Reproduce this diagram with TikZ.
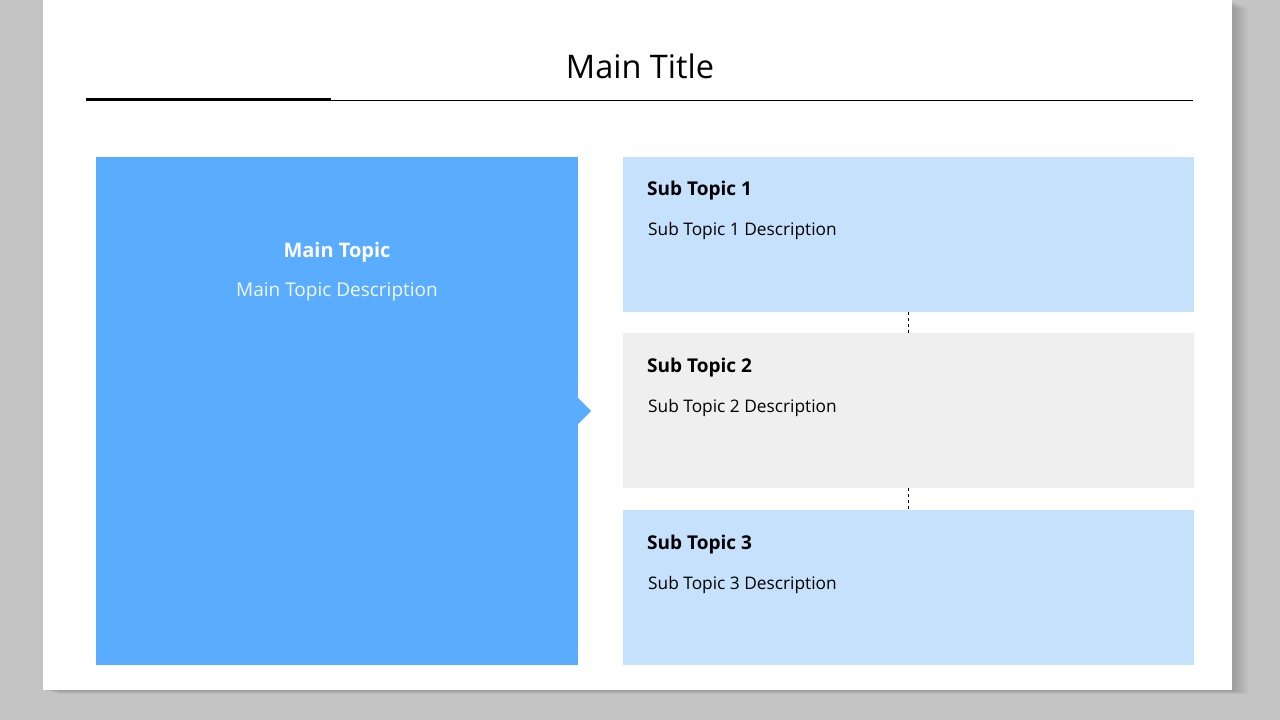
\documentclass[tikz,border=0pt]{standalone}
\usepackage{fontspec}
\setmainfont{Open Sans}
\usetikzlibrary{positioning, calc}

\definecolor{pagegray}{HTML}{C4C4C4}
\definecolor{mainblue}{HTML}{5AACFF}
\definecolor{lightblue}{HTML}{C5E1FC}
\definecolor{lightgray}{HTML}{EFEFEF}

\tikzset{
    subbox/.style={minimum width=571pt, minimum height=155pt, inner sep=0pt, anchor=north west},
    subtitle/.style={anchor=base west, font=\fontsize{19}{22}\selectfont\bfseries, inner sep=0pt},
    subdesc/.style={anchor=base west, font=\fontsize{17.3}{21}\selectfont, inner sep=0pt},
    link/.style={draw=black, dashed, line width=0.8pt}
}

\begin{document}
\begin{tikzpicture}[x=1pt, y=-1pt]
\useasboundingbox (0,0) rectangle (1280,720);
% page
\fill[pagegray] (0,0) rectangle (1280,720);
\foreach \d in {2,4,...,16} {
    \fill[black, opacity=0.025] (43+\d,\d/2) rectangle (1232+\d,690+\d/4);
}
\fill[white] (43,0) rectangle (1232,690);

% title
\node[font=\fontsize{32.5}{38}\selectfont] (title) at (640,66) {Main Title};
\draw[line width=0.8pt] (86,100) -- (1193,100);
\draw[line width=3pt] (86,99.5) -- (331,99.5);

% main topic
\node[fill=mainblue, minimum width=482pt, minimum height=508pt, inner sep=0pt, anchor=north west] (main) at (96,157) {};
\fill[mainblue] (577,397) -- (591,411) -- (577,425) -- cycle;
\node[font=\fontsize{20}{24}\selectfont\bfseries, text=white] (maintitle) at (337,252) {Main Topic};
\node[font=\fontsize{19}{23}\selectfont, text=white!92!mainblue] (maindesc) at (337,292) {Main Topic Description};

% sub topics
\node[subbox, fill=lightblue] (s1) at (623,157) {};
\node[subbox, fill=lightgray] (s2) at (623,333) {};
\node[subbox, fill=lightblue] (s3) at (623,510) {};

\foreach \i/\y in {1/195, 2/372, 3/549} {
    \node[subtitle] (st\i) at (647,\y) {Sub Topic \i};
    \node[subdesc] (sd\i) at (648,\y+40) {Sub Topic \i{} Description};
}

\draw[link] (s1.south) -- (s2.north);
\draw[link] (s2.south) -- (s3.north);
\end{tikzpicture}
\end{document}
